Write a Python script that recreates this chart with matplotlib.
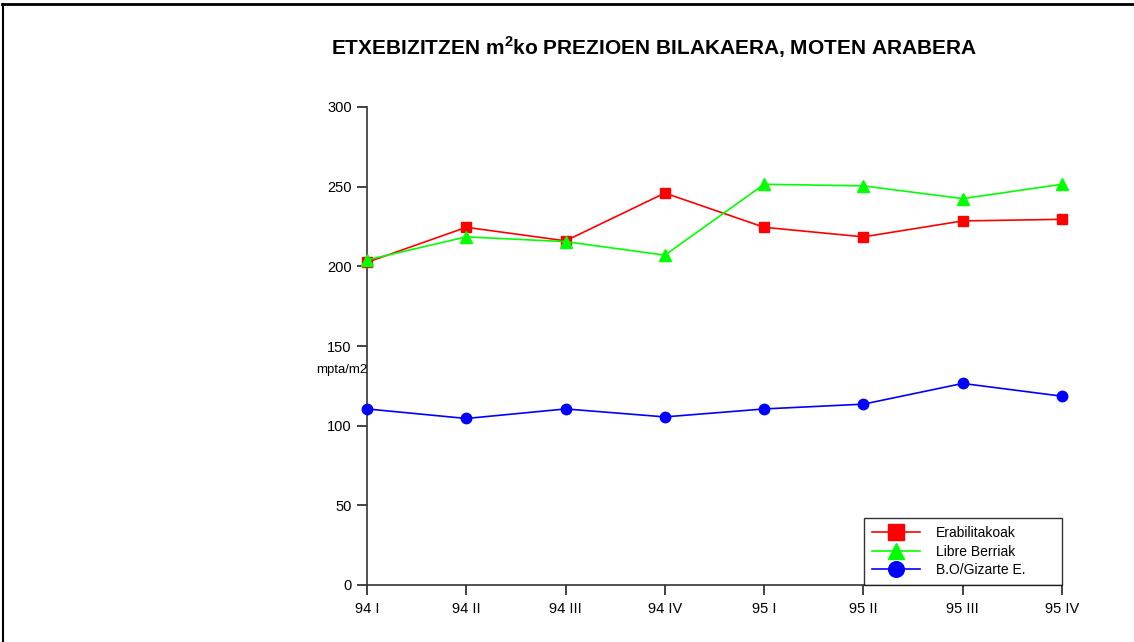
import matplotlib
matplotlib.use("Agg")
import matplotlib.pyplot as plt
from matplotlib.lines import Line2D

plt.rcParams['font.family'] = ['Liberation Sans', 'DejaVu Sans']

quarters = ["94 I", "94 II", "94 III", "94 IV", "95 I", "95 II", "95 III", "95 IV"]
erabilitakoak = [202.5, 224.5, 216, 246, 224.5, 218.5, 228.5, 229.5]
libre_berriak = [204, 218.5, 215.5, 207, 251.5, 250.5, 242.5, 251.5]
bo_gizarte = [110.5, 104.5, 110.5, 105.5, 110.5, 113.5, 126.5, 118.5]
y_ticks = [0, 50, 100, 150, 200, 250, 300]

fig = plt.figure(figsize=(11.34, 6.42), dpi=100)
ax = fig.add_axes([367 / 1134, 1 - 585 / 642, (1062 - 367) / 1134, (585 - 107) / 642])

x = list(range(len(quarters)))
ax.plot(x, erabilitakoak, color="#FF0000", lw=1.2, marker="s", ms=7.5,
        label="Erabilitakoak", clip_on=False, zorder=3)
ax.plot(x, libre_berriak, color="#00FF00", lw=1.2, marker="^", ms=8,
        label="Libre Berriak", clip_on=False, zorder=3)
ax.plot(x, bo_gizarte, color="#0000FF", lw=1.2, marker="o", ms=7.5,
        label="B.O/Gizarte E.", clip_on=False, zorder=3)

ax.set_xlim(0, len(quarters) - 1)
ax.set_ylim(0, 300)
ax.set_xticks(x)
ax.set_xticklabels(quarters)
ax.set_yticks(y_ticks)
for s in ("top", "right"):
    ax.spines[s].set_visible(False)
for s in ("left", "bottom"):
    ax.spines[s].set_color("#333333")
    ax.spines[s].set_linewidth(1.2)
ax.tick_params(axis="both", direction="out", length=7, width=1.2,
               color="#222222", labelsize=10.5)
ax.tick_params(axis="x", pad=5)
ax.tick_params(axis="y", pad=4)

ax.text(0.0, 135, "mpta/m2", ha="right", va="center", fontsize=9.5)

fig.text(0.577, 0.927, "ETXEBIZITZEN m$^{\\mathregular{2}}$ko PREZIOEN BILAKAERA, MOTEN ARABERA",
         ha="center", va="center", fontsize=15, fontweight="bold")

# legend box spans a fixed width in the lower right corner of the axes
leg_x0 = (864 - 367) / (1062 - 367)
leg = ax.legend(loc="lower left", bbox_to_anchor=(leg_x0, 0.0, 1.0 - leg_x0, 0.2),
                mode="expand", frameon=True, fancybox=False, edgecolor="black",
                fontsize=10, markerscale=1.5, handlelength=3.4,
                handletextpad=1.2, borderpad=0.6, labelspacing=0.3,
                borderaxespad=0.0)
leg.get_frame().set_linewidth(1.0)

# page frame: top and left rules
fig.add_artist(Line2D([2 / 1134, 1.0], [1 - 4 / 642, 1 - 4 / 642],
                      transform=fig.transFigure, color="black", lw=2))
fig.add_artist(Line2D([3 / 1134, 3 / 1134], [0.0, 1 - 4 / 642],
                      transform=fig.transFigure, color="black", lw=1.5))

fig.savefig("out.png", dpi=100)
